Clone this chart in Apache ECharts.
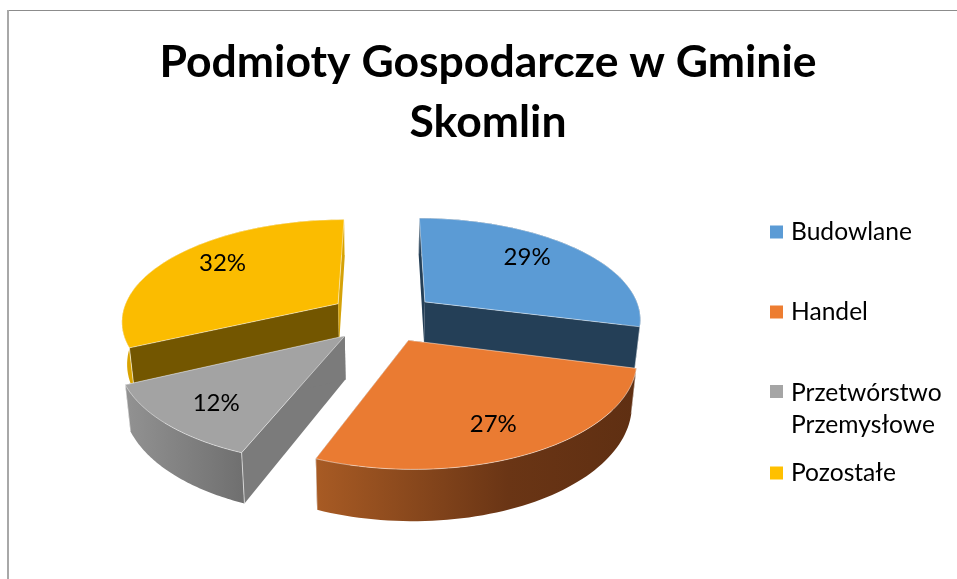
<!DOCTYPE html>
<html><head><meta charset="utf-8">
<style>html,body{margin:0;padding:0;background:#fff}#c{width:957px;height:579px}</style>
<script src="https://cdn.jsdelivr.net/npm/echarts@6/dist/echarts.min.js"></script>
</head><body><div id="c"></div>
<script>
const titleLines = ['Podmioty Gospodarcze w Gminie', 'Skomlin'];
const categories = ['Budowlane', 'Handel', 'Przetwórstwo\nPrzemysłowe', 'Pozostałe'];
const values = [29, 27, 12, 32];

const topColors = ['#5B9BD5', '#ED7D31', '#A5A5A5', '#FFC000'];
const topFaces = ['#5B9BD5', '#EA7B32', '#A3A3A3', '#FBBC00'];
const sideColors = ['#243F57', '#5F2F12', '#7B7B7B', '#735600'];
const rimStops = [
  [['#243F57', 0], ['#243F57', 1]],
  [['#A85B24', 0], ['#6A3515', 0.6], ['#5F2F12', 1]],
  [['#929292', 0], ['#6F6F6F', 1]],
  [['#D9A300', 0], ['#D9A300', 1]]
];
const endWallColors = ['#243F57', '#5F2F12', '#7B7B7B', '#D5A208'];
const labelOffsets = [[2, -8], [9, 15], [-18, 13], [-7, -8]];
const drawOrder = [3, 0, 2, 1];

const P = { cx: 383, cy: 317, A: 217, B: 101, q: 0.155, H: 42, explode: 0.25, shrink: 0.02, labelR: 0.65 };
const total = values.reduce((a, b) => a + b, 0);
const startFrac = values.map((v, i) => values.slice(0, i).reduce((a, b) => a + b, 0) / total);

function project(u, v, z) {
  const w = 1 / (1 + P.q * v);
  return [P.cx + P.A * u * w * (1 - P.shrink * z), P.cy - P.B * v * w + P.H * w * z];
}
function sliceGeom(i) {
  const a0 = startFrac[i] * 2 * Math.PI;
  const a1 = a0 + values[i] / total * 2 * Math.PI;
  const m = (a0 + a1) / 2;
  const ox = P.explode * Math.sin(m), oy = P.explode * Math.cos(m);
  const pt = (r, a, z) => project(ox + r * Math.sin(a), oy + r * Math.cos(a), z);
  const arc = z => { const out = []; const n = 60;
    for (let k = 0; k <= n; k++) out.push(pt(1, a0 + (a1 - a0) * k / n, z)); return out; };
  return { a0, a1, m, pt, arc };
}
function renderSlice(i) {
  const g = sliceGeom(i);
  const edge = 'rgba(255,255,255,0.6)';
  const poly = (points, fill, stroked) => ({ type: 'polygon', shape: { points },
    style: { fill, stroke: stroked ? edge : null, lineWidth: stroked ? 0.8 : 0 } });
  const seam = a => ({ type: 'polyline', shape: { points: [g.pt(1, a, 0), g.pt(1, a, 1)] },
    style: { fill: null, stroke: edge, lineWidth: 1 } });
  const top = g.arc(0), bottom = g.arc(1);
  const stops = rimStops[i].map(s => ({ offset: s[1], color: s[0] }));
  const children = [
    poly([g.pt(0, g.a0, 0), g.pt(1, g.a0, 0), g.pt(1, g.a0, 1), g.pt(0, g.a0, 1)], i === 3 ? sideColors[i] : endWallColors[i], false),
    poly([g.pt(0, g.a1, 0), g.pt(1, g.a1, 0), g.pt(1, g.a1, 1), g.pt(0, g.a1, 1)], i === 3 ? endWallColors[i] : sideColors[i], false),
    poly(top.concat(bottom.slice().reverse()), new echarts.graphic.LinearGradient(0, 0, 1, 0, stops), false),
    seam(g.a0), seam(g.a1),
    poly([g.pt(0, g.a0, 0)].concat(top), topFaces[i], true)
  ];
  const lp = g.pt(P.labelR, g.m, 0);
  children.push({ type: 'text', x: lp[0] + labelOffsets[i][0], y: lp[1] + labelOffsets[i][1],
    style: { text: Math.round(values[i] / total * 100) + '%', fontFamily: 'Lato', fontSize: 24,
      fill: '#000', align: 'center', verticalAlign: 'middle' } });
  return { type: 'group', children };
}

const legendTops = [216, 296, 377, 457];
const series = drawOrder.map(i => ({
  type: 'custom', name: categories[i], coordinateSystem: 'none',
  data: [values[i]], itemStyle: { color: topColors[i] }, silent: true,
  renderItem: () => renderSlice(i)
}));
const legendText = { fontFamily: 'Lato', fontSize: 24.6, color: '#000', lineHeight: 32, padding: [0, 0, 0, 3] };
const legend = categories.map((c, i) => ({
  left: 770, top: legendTops[i], orient: 'vertical', padding: 0, itemGap: 0,
  data: [c], selectedMode: false, textStyle: legendText, itemWidth: 13,
  itemHeight: i === 2 ? 50 : 13,
  icon: i === 2 ? 'path://M0,2H13V15H0Z M0,50L0,50Z' : 'rect'
}));

const chart = echarts.init(document.getElementById('c'), null, { renderer: 'canvas' });
chart.setOption({
  animation: false,
  backgroundColor: '#fff',
  title: { text: titleLines.join('\n'), left: 483, top: 28, textAlign: 'center',
    textStyle: { fontFamily: 'Lato', fontWeight: 'bold', fontSize: 44.5, color: '#000', lineHeight: 60 } },
  legend, series,
  graphic: [
    { type: 'line', shape: { x1: 7, y1: 10.5, x2: 957, y2: 10.5 }, style: { stroke: '#8C8C8C', lineWidth: 1 } },
    { type: 'line', shape: { x1: 8, y1: 10, x2: 8, y2: 579 }, style: { stroke: '#A8A8A8', lineWidth: 2 } }
  ]
});
</script></body></html>
